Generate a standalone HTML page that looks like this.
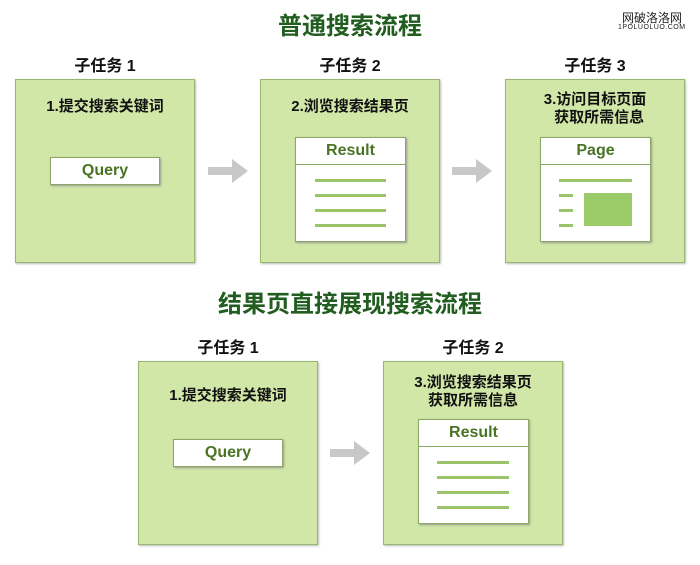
<!DOCTYPE html>
<html><head><meta charset="utf-8"><style>
body{margin:0;width:700px;height:565px;background:#fff;position:relative;overflow:hidden;font-family:"Liberation Sans","Noto Sans CJK SC",sans-serif}
.a{position:absolute}
.t{color:#215d1f;font-size:24px;font-weight:bold;text-align:center;width:700px;left:0}
.lb{font-size:16px;font-weight:bold;color:#111;text-align:center;width:180px}
.box{background:#d1e7a7;border:1px solid #9ab56f;box-sizing:border-box;width:180px;height:184px;box-shadow:1px 1px 2px #bbb}
.h{font-size:15px;font-weight:bold;color:#111;text-align:center;width:180px;line-height:18px}
.w{background:#fff;border:1px solid #8aa763;box-sizing:border-box;box-shadow:1px 1px 2px #999}
.q{width:110px;height:28px;text-align:center;line-height:26px;color:#4a7424;font-weight:bold;font-size:16px}
.r{width:111px;height:105px}
.r .hd{height:26px;border-bottom:1px solid #8aa763;text-align:center;line-height:26px;color:#4a7424;font-weight:bold;font-size:16px}
.ln{position:absolute;height:3px;background:#9bc46a}
.arr{width:0;height:0;border-top:12px solid transparent;border-bottom:12px solid transparent;border-left:16px solid #c8c8c8}
.sh{background:#c8c8c8;width:24px;height:8px}
</style></head><body>
<div class="a t" style="top:6px">普通搜索流程</div>
<div class="a" style="left:622px;top:9px;font-size:12px;color:#222">网破洛洛网</div>
<div class="a" style="left:618px;top:24px;font-size:7px;color:#222;letter-spacing:0.5px">1POLUOLUO.COM</div>

<div class="a lb" style="left:15px;top:52px">子任务 1</div>
<div class="a lb" style="left:260px;top:52px">子任务 2</div>
<div class="a lb" style="left:505px;top:52px">子任务 3</div>

<div class="a box" style="left:15px;top:79px"></div>
<div class="a h" style="left:15px;top:98px">1.提交搜索关键词</div>
<div class="a w q" style="left:50px;top:157px">Query</div>

<div class="a sh" style="left:208px;top:167px"></div><div class="a arr" style="left:232px;top:159px"></div>

<div class="a box" style="left:260px;top:79px"></div>
<div class="a h" style="left:260px;top:98px">2.浏览搜索结果页</div>
<div class="a w r" style="left:295px;top:137px"><div class="hd">Result</div>
<div class="ln" style="left:19px;top:41px;width:71px"></div><div class="ln" style="left:19px;top:56px;width:71px"></div><div class="ln" style="left:19px;top:71px;width:71px"></div><div class="ln" style="left:19px;top:86px;width:71px"></div></div>

<div class="a sh" style="left:452px;top:167px"></div><div class="a arr" style="left:476px;top:159px"></div>

<div class="a box" style="left:505px;top:79px"></div>
<div class="a h" style="left:505px;top:91px">3.访问目标页面<br>&nbsp;&nbsp;获取所需信息</div>
<div class="a w r" style="left:540px;top:137px"><div class="hd">Page</div>
<div class="ln" style="left:18px;top:41px;width:73px"></div>
<div class="ln" style="left:18px;top:56px;width:14px"></div><div class="ln" style="left:18px;top:71px;width:14px"></div><div class="ln" style="left:18px;top:86px;width:14px"></div>
<div class="a" style="left:43px;top:55px;width:48px;height:33px;background:#9bcb68"></div></div>

<div class="a t" style="top:284px">结果页直接展现搜索流程</div>
<div class="a lb" style="left:138px;top:334px">子任务 1</div>
<div class="a lb" style="left:383px;top:334px">子任务 2</div>

<div class="a box" style="left:138px;top:361px"></div>
<div class="a h" style="left:138px;top:387px">1.提交搜索关键词</div>
<div class="a w q" style="left:173px;top:439px">Query</div>

<div class="a sh" style="left:330px;top:449px"></div><div class="a arr" style="left:354px;top:441px"></div>

<div class="a box" style="left:383px;top:361px"></div>
<div class="a h" style="left:383px;top:374px">3.浏览搜索结果页<br>获取所需信息</div>
<div class="a w r" style="left:418px;top:419px"><div class="hd">Result</div>
<div class="ln" style="left:18px;top:41px;width:72px"></div><div class="ln" style="left:18px;top:56px;width:72px"></div><div class="ln" style="left:18px;top:71px;width:72px"></div><div class="ln" style="left:18px;top:86px;width:72px"></div></div>
</body></html>
